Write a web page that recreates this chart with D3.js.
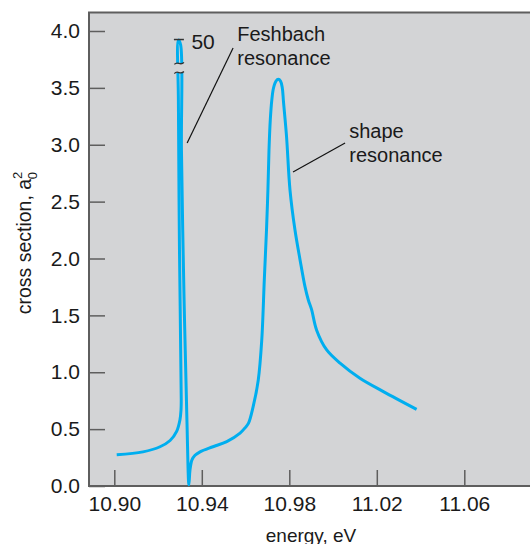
<!DOCTYPE html>
<html><head><meta charset="utf-8">
<script src="https://cdn.jsdelivr.net/npm/d3@7"></script>
<style>
body{margin:0;background:#fff}
svg{display:block}
text{font-family:"Liberation Sans",Arial,Helvetica,sans-serif;fill:#1a1a1a}
</style>
</head><body>
<svg id="chart" width="530" height="544"></svg>
<script>
// ---- data (energy in eV, cross section in a0^2, Feshbach peak drawn broken) ----
const energy = [
  10.9011,10.9131,10.9209,10.9255,10.9285,10.9300,10.9305,10.9306,10.9298,10.9293,10.9293,
  10.9303,10.9307,10.9319,10.9332,10.9341,10.9346,10.9355,10.9369,10.9392,10.9451,10.9514,
  10.9575,10.9597,10.9613,10.9635,10.9658,10.9674,
  10.96857,10.96958,10.97022,10.97072,10.97131,10.97200,10.97278,10.97392,10.97497,
  10.97598,10.97680,10.97735,10.97872,10.98032,
  10.9826,10.9849,10.9872,10.9887,10.9902,
  10.9925,10.9971,11.0032,11.0123,11.0230,11.0382
];
const crossSection = [
  0.275,0.30,0.345,0.40,0.48,0.58,0.67,0.756,2.07,3.39,3.92,
  3.88,2.95,1.635,0.58,0.01,0.14,0.23,0.27,0.30,0.345,0.39,
  0.465,0.51,0.55,0.70,0.93,1.28,
  1.811,2.251,2.602,2.954,3.218,3.393,3.499,3.560,3.575,
  3.560,3.499,3.376,3.077,2.602,
  2.25,1.99,1.75,1.635,1.55,
  1.37,1.196,1.08,0.947,0.83,0.674
];
const xTicks = [10.90, 10.94, 10.98, 11.02, 11.06];
const yTicks = [0.0, 0.5, 1.0, 1.5, 2.0, 2.5, 3.0, 3.5, 4.0];
const feshbachPeak = {energy: 10.9293, value: 3.925, label: "50"};
const axisBreak = [3.635, 3.715];
const labels = [
  {lines: ["Feshbach", "resonance"], energy: 10.9562, value: 3.91, from: [10.9543, 3.85], to: [10.9333, 3.015]},
  {lines: ["shape", "resonance"], energy: 11.0074, value: 3.06, from: [11.0055, 3.015], to: [10.9817, 2.76]}
];

// ---- layout ----
const plot = {left: 89, top: 12.5, right: 530, bottom: 486};
const x = d3.scaleLinear().domain([10.90, 11.06]).range([114.3, 464.3]);
const y = d3.scaleLinear().domain([0, 4]).range([486, 31]);

const svg = d3.select("#chart");
const bg = "#d3d4d6", frame = "#5e5e5e", curveColor = "#00aeef";

svg.append("rect").attr("x", plot.left).attr("y", plot.top)
  .attr("width", plot.right - plot.left).attr("height", plot.bottom - plot.top)
  .attr("fill", bg);

// axes
const yAxis = d3.axisLeft(y).tickValues(yTicks).tickFormat(d3.format(".1f"))
  .tickSizeInner(-16).tickSizeOuter(0).tickPadding(9);
const gy = svg.append("g").attr("transform", `translate(${plot.left},0)`).call(yAxis);
const xAxis = d3.axisBottom(x).tickValues(xTicks).tickFormat(d3.format(".2f"))
  .tickSizeInner(-16).tickSizeOuter(0).tickPadding(10);
const gx = svg.append("g").attr("transform", `translate(0,${plot.bottom})`).call(xAxis);
[gx, gy].forEach(g => {
  g.select(".domain").remove();
  g.selectAll(".tick line").attr("stroke", frame).attr("stroke-width", 1.5);
  g.selectAll(".tick text").attr("font-size", 21).attr("fill", "#1a1a1a")
    .style("font-family", '"Liberation Sans",Arial,sans-serif');
});

// frame
svg.append("path")
  .attr("d", `M${plot.right},${plot.top}H${plot.left}V${plot.bottom}H${plot.right}`)
  .attr("fill", "none").attr("stroke", frame).attr("stroke-width", 2);

// curve
const pts = energy.map((e, i) => [e, crossSection[i]]);
const line = d3.line().x(d => x(d[0])).y(d => y(d[1])).curve(d3.curveCatmullRom.alpha(0.5));
svg.append("path").datum(pts).attr("d", line)
  .attr("fill", "none").attr("stroke", curveColor).attr("stroke-width", 3)
  .attr("stroke-linejoin", "round");

// axis break on Feshbach peak
const bx = x(feshbachPeak.energy) + 1;
svg.append("rect").attr("x", bx - 6).attr("y", y(axisBreak[1]))
  .attr("width", 12).attr("height", y(axisBreak[0]) - y(axisBreak[1])).attr("fill", bg);
axisBreak.forEach(v => {
  const yy = y(v);
  svg.append("path")
    .attr("d", `M${bx - 5},${yy + 1} C${bx - 2},${yy - 3} ${bx + 1},${yy + 3} ${bx + 4.5},${yy - 1}`)
    .attr("fill", "none").attr("stroke", "#333").attr("stroke-width", 1.3);
});
svg.append("line").attr("x1", bx - 5.5).attr("x2", bx + 4.5)
  .attr("y1", y(feshbachPeak.value)).attr("y2", y(feshbachPeak.value))
  .attr("stroke", "#333").attr("stroke-width", 1.5);
svg.append("text").attr("x", bx + 12).attr("y", y(feshbachPeak.value) + 9)
  .attr("font-size", 21).text(feshbachPeak.label);

// annotations
labels.forEach(l => {
  svg.append("line").attr("x1", x(l.from[0])).attr("y1", y(l.from[1]))
    .attr("x2", x(l.to[0])).attr("y2", y(l.to[1]))
    .attr("stroke", "#111").attr("stroke-width", 1.2);
  const t = svg.append("text").attr("x", x(l.energy)).attr("y", y(l.value)).attr("font-size", 20);
  l.lines.forEach((s, i) => t.append("tspan").attr("x", x(l.energy)).attr("dy", i ? 24 : 0).text(s));
});

// axis titles
svg.append("text").attr("x", 311).attr("y", 542).attr("text-anchor", "middle")
  .attr("font-size", 19).text("energy, eV");
const yt = svg.append("text").attr("transform", "translate(31,243) rotate(-90)")
  .attr("text-anchor", "middle").attr("font-size", 19.5);
yt.append("tspan").text("cross section, a");
yt.append("tspan").attr("font-size", 13).attr("dy", -9).text("2");
yt.append("tspan").attr("font-size", 13).attr("dx", -7.5).attr("dy", 15).text("0");
</script>
</body></html>
